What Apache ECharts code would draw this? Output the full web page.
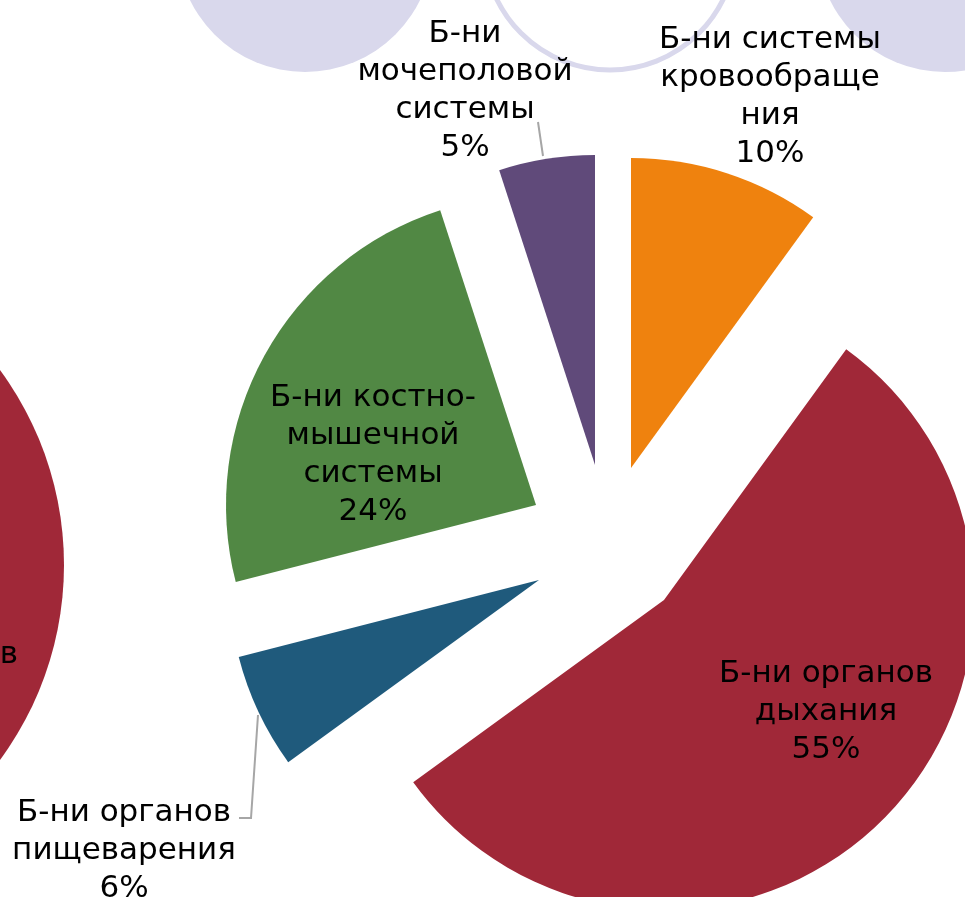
<!DOCTYPE html>
<html>
<head>
<meta charset="utf-8">
<script src="https://cdn.jsdelivr.net/npm/echarts@6/dist/echarts.min.js"></script>
<style>
  html, body { margin: 0; padding: 0; background: #fff; }
  #chart { width: 965px; height: 897px; }
</style>
</head>
<body>
<div id="chart"></div>
<script>
// данные диаграммы
const categories = [
    'Б-ни системы\nкровообраще\nния',
    'Б-ни органов\nдыхания',
    'Б-ни органов\nпищеварения',
    'Б-ни костно-\nмышечной\nсистемы',
    'Б-ни\nмочеполовой\nсистемы'
];
const values = [10, 55, 6, 24, 5];
const colors = ['#EF820E', '#A02838', '#1F5A7C', '#518844', '#604A7A'];

// каждый сектор "выдвинут" - своя вершина
const sliceCenters = [[631, 468], [664, 600], [539, 580], [536, 505], [595, 465]];
// где стоят подписи (центр текста)
const labelPos = [[770, 97], [826, 712], [124, 851], [373, 455], [465, 91]];
const labelLines = [null, null, [[258, 715], [251, 818], [239, 818]], null, [[543, 156], [538, 122]]];
const insideIdx = [1, 3];

const chart = echarts.init(document.getElementById('chart'));

// по одной серии на сектор, остальные секторы прозрачные
const series = categories.map((_, k) => ({
    type: 'pie',
    center: sliceCenters[k],
    radius: 310,
    startAngle: 90,
    clockwise: true,
    avoidLabelOverlap: false,
    emphasis: { disabled: true },
    label: {
        formatter: '{b}\n{d}%',
        fontFamily: 'DejaVu Sans',
        fontSize: 31,
        lineHeight: 38,
        color: '#000',
        align: 'center'
    },
    labelLine: { lineStyle: { color: '#A6A6A6', width: 2 } },
    labelLayout: function (p) {
        const i = p.dataIndex;
        const res = { x: labelPos[i][0], y: labelPos[i][1], align: 'center', verticalAlign: 'middle' };
        if (labelLines[i]) res.labelLinePoints = labelLines[i];
        return res;
    },
    data: categories.map((name, i) => ({
        name,
        value: values[i],
        itemStyle: { color: i === k ? colors[i] : 'rgba(0,0,0,0)' },
        label: { show: i === k, position: insideIdx.includes(i) ? 'inside' : 'outside' },
        labelLine: { show: i === k && labelLines[i] != null }
    }))
}));

chart.setOption({
    animation: false,
    graphic: [
        { type: 'circle', shape: { cx: 305, cy: -56, r: 128 }, style: { fill: '#D9D8EC' }, silent: true },
        { type: 'circle', shape: { cx: 610, cy: -56, r: 126 }, style: { fill: '#fff', stroke: '#D9D8EC', lineWidth: 5 }, silent: true },
        { type: 'circle', shape: { cx: 945, cy: -56, r: 128 }, style: { fill: '#D9D8EC' }, silent: true },
        { type: 'circle', shape: { cx: -265, cy: 565, r: 329 }, style: { fill: '#A02838' }, silent: true },
        { type: 'text', x: 18, y: 655, style: { text: 'Б-ни органов', font: '31px "DejaVu Sans"', fill: '#000', align: 'right', verticalAlign: 'middle' }, silent: true }
    ],
    series
});
</script>
</body>
</html>
